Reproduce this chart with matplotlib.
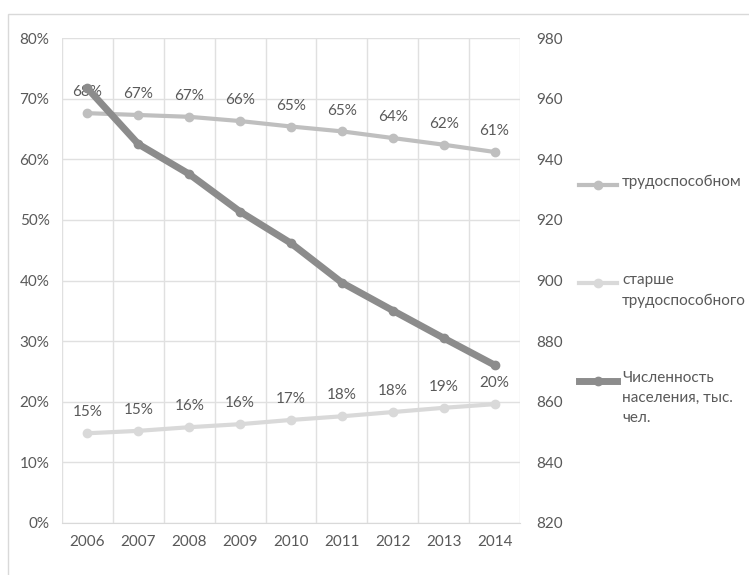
import numpy as np
import matplotlib
matplotlib.use("Agg")
import matplotlib.pyplot as plt
from matplotlib.lines import Line2D
from matplotlib.patches import Rectangle
from matplotlib.ticker import PercentFormatter

plt.rcParams['font.family'] = ['Lato', 'DejaVu Sans']
plt.rcParams['font.size'] = 11

years = ["2006", "2007", "2008", "2009", "2010", "2011", "2012", "2013", "2014"]
working = [67.6, 67.3, 67.0, 66.3, 65.4, 64.6, 63.5, 62.4, 61.2]
older = [14.8, 15.2, 15.8, 16.3, 17.0, 17.6, 18.3, 19.0, 19.6]
population = [963.4, 945.0, 935.1, 922.7, 912.3, 899.3, 890.1, 881.0, 872.1]

names = ["трудоспособном", "старше\nтрудоспособного", "Численность\nнаселения, тыс.\nчел."]

TextColor = "#595959"
GridColor = "#e0e0e0"
ColWorking = "#bfbfbf"
ColOlder = "#d9d9d9"
ColPop = "#8c8c8c"
FontSize = 11

W, H = 749, 575
fig = plt.figure(figsize = (W / 100, H / 100), dpi = 100)
ax = fig.add_axes([62 / W, 1 - 523 / H, (520 - 62) / W, (523 - 38) / H])
ax2 = ax.twinx()

x = np.arange(len(years))

ax.plot(x, working, color = ColWorking, lw = 3, marker = "o", ms = 6, zorder = 3)
ax.plot(x, older, color = ColOlder, lw = 3, marker = "o", ms = 6, zorder = 3)
for xi, v in zip(x, working):
    ax.annotate(f"{v:.0f}%", (xi, v), xytext = (0, 15), textcoords = "offset points",
                ha = "center", va = "center", color = TextColor, fontsize = FontSize)
for xi, v in zip(x, older):
    ax.annotate(f"{v:.0f}%", (xi, v), xytext = (0, 15), textcoords = "offset points",
                ha = "center", va = "center", color = TextColor, fontsize = FontSize)

ax2.plot(x, population, color = ColPop, lw = 5, marker = "o", ms = 6, solid_capstyle = "round")

ax.set_xlim(-0.5, len(years) - 0.5)
ax.set_ylim(0, 80)
ax.set_yticks(np.arange(0, 81, 10))
ax.yaxis.set_major_formatter(PercentFormatter(decimals = 0))
ax.set_xticks(x)
ax.set_xticklabels(years)
ax.set_xticks(np.arange(-0.5, len(years), 1), minor = True)
ax2.set_ylim(820, 980)
ax2.set_yticks(np.arange(820, 981, 20))

ax.grid(axis = "y", color = GridColor, lw = 1)
ax.grid(axis = "x", which = "minor", color = GridColor, lw = 1)
ax.set_axisbelow(True)
for a in (ax, ax2):
    for s in a.spines.values():
        s.set_visible(False)
ax.spines["bottom"].set_visible(True)
ax.spines["bottom"].set_color("#d9d9d9")

ax.tick_params(axis = "both", which = "both", length = 0, colors = TextColor, labelsize = FontSize)
ax.tick_params(axis = "y", pad = 9)
ax.tick_params(axis = "x", pad = 9)
ax2.tick_params(axis = "y", length = 0, colors = TextColor, labelsize = FontSize, pad = 12)

# legend drawn by hand to keep the wide vertical spacing
leg_y = [185, 283, 381]
leg_col = [ColWorking, ColOlder, ColPop]
leg_lw = [3, 3, 5]
for y, c, lw, name in zip(leg_y, leg_col, leg_lw, names):
    fy = 1 - y / H
    fig.add_artist(Line2D([579 / W, 617 / W], [fy, fy], color = c, lw = lw,
                          transform = fig.transFigure))
    fig.add_artist(Line2D([598 / W], [fy], color = c, marker = "o", ms = 6,
                          transform = fig.transFigure))
    fig.text(622 / W, fy + 10 / H, name, ha = "left", va = "top", color = TextColor,
             fontsize = FontSize, linespacing = 1.55)

fig.add_artist(Rectangle((8 / W, -0.1), 1.2, 1 - 14 / H + 0.1, transform = fig.transFigure,
                         fill = False, edgecolor = "#d9d9d9", lw = 1))

fig.savefig("out.png", dpi = 100)
